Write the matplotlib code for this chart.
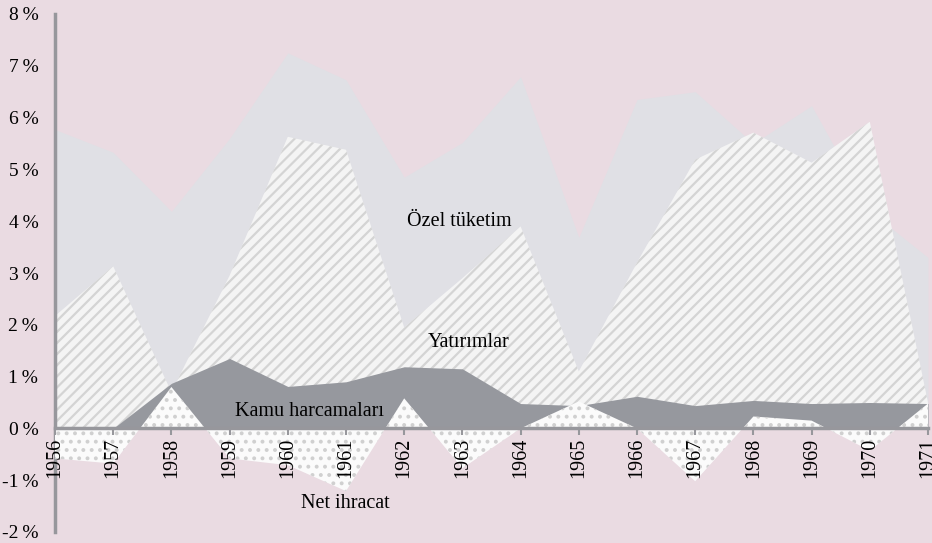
import matplotlib.pyplot as plt
import numpy as np

# Data (percent)
years = list(range(1956, 1972))
ozel_tuketim = [5.77, 5.33, 4.19, 5.6, 7.25, 6.73, 4.85, 5.52, 6.79, 3.69, 6.35, 6.5, 5.5, 6.23, 4.2, 3.3]
yatirimlar = [2.17, 3.13, 0.7, 2.95, 5.63, 5.38, 1.95, 2.9, 3.9, 1.1, 3.2, 5.19, 5.71, 5.13, 5.92, 0.5]
kamu = [0.0, 0.0, 0.87, 1.35, 0.81, 0.9, 1.19, 1.15, 0.48, 0.44, 0.62, 0.44, 0.54, 0.48, 0.5, 0.48]
net_ihracat = [-0.58, -0.68, 0.8, -0.58, -0.71, -1.21, 0.58, -0.77, 0.0, 0.52, 0.0, -1.02, 0.23, 0.15, -0.43, 0.48]
ytick_vals = [-2, -1, 0, 1, 2, 3, 4, 5, 6, 7, 8]

bg = '#EADBE2'
fs = 14
plt.rcParams['font.family'] = ['Liberation Serif', 'DejaVu Serif']
plt.rcParams['hatch.linewidth'] = 1.6

fig = plt.figure(figsize=(9.32, 5.43), dpi=100, facecolor=bg)
ax = fig.add_axes([55 / 932, 1 - 532 / 543, (928 - 55) / 932, (532 - 14) / 543])
ax.set_facecolor(bg)

ax.fill_between(years, 0, ozel_tuketim, color='#E0E0E5', linewidth=0, zorder=1)
ax.fill_between(years, 0, yatirimlar, facecolor='#F4F4F4', edgecolor='#D4D4D4',
                hatch='///', linewidth=0, zorder=2)
ax.fill_between(years, 0, kamu, color='#96989E', linewidth=0, zorder=3)
ax.fill_between(years, 0, net_ihracat, facecolor='#FBFBFB', edgecolor='#D0D0D0',
                hatch='..', linewidth=0, zorder=4)

ax.set_xlim(1956, 1971)
ax.set_ylim(-2, 8)

for s in ['top', 'right']:
    ax.spines[s].set_visible(False)
ax.spines['left'].set_color('#97979C')
ax.spines['left'].set_linewidth(2.5)
ax.spines['bottom'].set_position(('data', 0))
ax.spines['bottom'].set_color('#97979C')
ax.spines['bottom'].set_linewidth(2.5)
ax.spines['bottom'].set_zorder(5)
ax.xaxis.set_zorder(7)

ax.set_xticks(years)
ax.set_xticklabels([str(y) for y in years], rotation=90, fontsize=fs + 0.5)
ax.tick_params(axis='x', length=5, width=1.5, color='#97979C', pad=2)
ax.set_yticks(ytick_vals)
ax.set_yticklabels([f'{v}\u2009%' for v in ytick_vals], fontsize=fs)
ax.tick_params(axis='y', length=0, pad=12)

ax.text(1962.95, 4.0, 'Özel tüketim', fontsize=fs + 0.5, ha='center', va='center', zorder=8)
ax.text(1963.1, 1.65, 'Yatırımlar', fontsize=fs + 0.5, ha='center', va='center', zorder=8)
ax.text(1960.38, 0.33, 'Kamu harcamaları', fontsize=fs + 0.5, ha='center', va='center', zorder=8)
ax.text(1960.98, -1.45, 'Net ihracat', fontsize=fs + 0.5, ha='center', va='center', zorder=8)

fig.savefig('out.png', dpi=100, facecolor=bg)
